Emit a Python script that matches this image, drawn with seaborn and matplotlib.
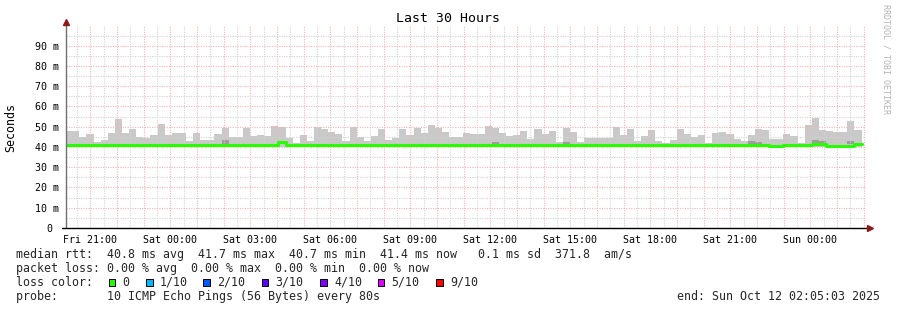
import numpy as np
import matplotlib
matplotlib.use("Agg")
import matplotlib.pyplot as plt
from matplotlib.patches import Rectangle
from matplotlib.ticker import FixedLocator, FixedFormatter
import seaborn as sns

# ---------------- data ----------------
# time axis in hours since Fri 00:00
view_start_h = 20 + 5 / 60 + 3 / 3600     # Fri 20:05:03
view_hours = 30
bin_start_h = 20 + 3 / 60                  # first smoke bin starts Fri 20:03
bin_minutes = 16

smoke_bottom = 40.2
smoke_top = [
    47.7, 47.7, 45.1, 46.2, 42.3, 43.3, 46.7, 53.8, 46.7, 48.9,
    45.1, 44.3, 45.7, 51.2, 45.7, 46.7, 46.7, 42.8, 46.7, 43.6,
    43.6, 46.2, 49.2, 44.8, 44.8, 49.2, 45.3, 45.7, 45.3, 50.2,
    49.7, 44.3, 41.8, 45.7, 42.8, 49.7, 48.7, 47.2, 46.2, 42.8,
    49.7, 44.8, 42.8, 45.3, 48.7, 43.3, 44.3, 48.7, 45.7, 49.2,
    46.7, 50.7, 49.2, 47.2, 44.8, 44.8, 46.7, 46.2, 46.2, 50.2,
    49.2, 46.7, 45.3, 45.7, 47.7, 43.8, 48.7, 46.2, 47.7, 42.3,
    49.2, 47.2, 42.3, 44.3, 44.3, 44.3, 44.3, 49.7, 45.7, 48.7,
    42.8, 45.3, 48.2, 42.8, 41.8, 43.3, 48.7, 46.2, 44.8, 45.7,
    41.8, 46.7, 47.2, 46.2, 43.8, 42.8, 45.7, 48.7, 48.2, 43.8,
    43.8, 46.2, 45.3, 41.8, 50.7, 54.1, 48.2, 47.7, 47.2, 47.2,
    52.6, 48.2,
]
median_rtt = [
    40.8, 40.8, 40.8, 40.8, 40.8, 40.8, 40.8, 40.8, 40.8, 40.8,
    40.8, 40.8, 40.8, 40.8, 40.8, 40.8, 40.8, 40.8, 40.8, 40.8,
    40.8, 40.8, 40.8, 40.8, 40.8, 40.8, 40.8, 40.8, 40.8, 40.8,
    42.3, 40.8, 40.8, 40.8, 40.8, 40.8, 40.8, 40.8, 40.8, 40.8,
    40.8, 40.8, 40.8, 40.8, 40.8, 40.8, 40.8, 40.8, 40.8, 40.8,
    40.8, 40.8, 40.8, 40.8, 40.8, 40.8, 40.8, 40.8, 40.8, 40.8,
    40.8, 40.8, 40.8, 40.8, 40.8, 40.8, 40.8, 40.8, 40.8, 40.8,
    40.8, 40.8, 40.8, 40.8, 40.8, 40.8, 40.8, 40.8, 40.8, 40.8,
    40.8, 40.8, 40.8, 40.8, 40.8, 40.8, 40.8, 40.8, 40.8, 40.8,
    40.8, 40.8, 40.8, 40.8, 40.8, 40.8, 40.8, 40.8, 40.8, 40.4,
    40.4, 40.8, 40.8, 40.8, 41.2, 41.3, 41.3, 40.5, 40.5, 40.5,
    40.6, 41.5,
]
# darker smoke patches (bin index, low, high)
dark_idx = [22, 60, 70, 96, 97, 105, 106, 110]
dark_lo = [41.5, 41.5, 41.5, 41.3, 41.3, 41.3, 41.3, 41.3]
dark_hi = [43.3, 42.5, 42.3, 42.8, 42.3, 43.3, 42.8, 43.0]

ytick_vals = [0, 10, 20, 30, 40, 50, 60, 70, 80, 90]
ytick_labels = ["0 ", "10 m", "20 m", "30 m", "40 m", "50 m", "60 m", "70 m", "80 m", "90 m"]
xtick_hours = [21, 24, 27, 30, 33, 36, 39, 42, 45, 48]
xtick_labels = ["Fri 21:00", "Sat 00:00", "Sat 03:00", "Sat 06:00", "Sat 09:00",
                "Sat 12:00", "Sat 15:00", "Sat 18:00", "Sat 21:00", "Sun 00:00"]

loss_labels = ["0", "1/10", "2/10", "3/10", "4/10", "5/10", "9/10"]
loss_colors = ["#26ff00", "#00b8ff", "#0059ff", "#5e00ff", "#7e00ff", "#dd00ff", "#ff0000"]

line_rtt = "median rtt:  40.8 ms avg  41.7 ms max  40.7 ms min  41.4 ms now   0.1 ms sd  371.8  am/s"
line_loss = "packet loss: 0.00 % avg  0.00 % max  0.00 % min  0.00 % now"
line_color = "loss color:"
line_probe = "probe:       10 ICMP Echo Pings (56 Bytes) every 80s"
line_end = "end: Sun Oct 12 02:05:03 2025"

# ---------------- figure ----------------
sns.set_theme(style="white")
plt.rcParams["font.family"] = ["DejaVu Sans Mono", "DejaVu Sans"]

W, H = 897, 310
fig = plt.figure(figsize=(W / 100, H / 100), dpi=100)
fig.patch.set_facecolor("white")

def fx(px):
    return px / W

def fy(py):
    return 1 - py / H

ax_left, ax_right, ax_bottom, ax_top = 66, 866, 228, 25.4
ax = fig.add_axes([fx(ax_left), fy(ax_bottom), fx(ax_right - ax_left), (ax_bottom - ax_top) / H])
ax.set_facecolor("white")

n = len(smoke_top)
bin_w = bin_minutes / 60
times = bin_start_h + np.arange(n) * bin_w
top = np.array(smoke_top)

ax.bar(times, top - smoke_bottom, bottom=smoke_bottom, width=bin_w, align="edge",
       color="#c9c9c9", linewidth=0, zorder=1)
di = np.array(dark_idx)
ax.bar(times[di], np.array(dark_hi) - np.array(dark_lo), bottom=dark_lo, width=bin_w,
       align="edge", color="#9c9c9c", linewidth=0, zorder=1.2)

mx = np.append(times, times[-1] + bin_w)
my = np.append(median_rtt, median_rtt[-1])
sns.lineplot(x=mx, y=my, drawstyle="steps-post", color="#26ff00", linewidth=2.2,
             ax=ax, zorder=3, sort=False, estimator=None)

ax.set_xlim(view_start_h, view_start_h + view_hours)
ax.set_ylim(0, 100)

ax.yaxis.set_major_locator(FixedLocator(ytick_vals))
ax.yaxis.set_major_formatter(FixedFormatter(ytick_labels))
ax.xaxis.set_major_locator(FixedLocator(xtick_hours))
ax.xaxis.set_major_formatter(FixedFormatter(xtick_labels))

# dotted grid drawn over the smoke, as rrdtool does
dots = (0, (1, 1.2))
red_grid, grey_grid = "#f6b4b4", "#d2d2d2"
for h in np.arange(20.5, 50.5, 0.5):
    if view_start_h < h < view_start_h + view_hours:
        is_major = float(h).is_integer()
        ax.axvline(h, color=red_grid if is_major else grey_grid, lw=0.8,
                   linestyle=dots, zorder=2)
for v in np.arange(5, 100, 5):
    is_major = v % 10 == 0
    ax.axhline(v, color=red_grid if is_major else grey_grid, lw=0.8,
               linestyle=dots, zorder=2)

for s in ax.spines.values():
    s.set_visible(False)

ax.tick_params(axis="y", length=3, width=0.7, color="#777777", pad=2.0,
               labelsize=7.2, labelcolor="black")
ax.tick_params(axis="x", length=2, width=0.7, color="#777777", pad=3.0,
               labelsize=7.2, labelcolor="black")

# axis lines with arrows
ax.plot([view_start_h, view_start_h], [0, 101.5], color="#707070", lw=1.0,
        clip_on=False, zorder=4)
x_left_ext = view_start_h - 4 / 26.667
x_right_ext = view_start_h + view_hours + 2 / 26.667
ax.plot([x_left_ext, x_right_ext], [0, 0], color="black", lw=1.0, clip_on=False, zorder=4)
ax.plot([view_start_h], [101.6], marker="^", color="#8b1a1a", markersize=4.5,
        clip_on=False, zorder=5, linestyle="none")
ax.plot([view_start_h + view_hours + 4 / 26.667], [0], marker=">", color="#8b1a1a",
        markersize=4.5, clip_on=False, zorder=5, linestyle="none")

ax.set_xlabel("")
ax.set_ylabel("")

# title and side texts
fig.text(fx(448), fy(19), "Last 30 Hours", ha="center", va="center", fontsize=9.5, color="black")
fig.text(fx(11), fy(127), "Seconds", ha="center", va="center", rotation=90, fontsize=8.4, color="black")
fig.text(fx(886), fy(59), "RRDTOOL / TOBI OETIKER", ha="center", va="center", rotation=270,
         fontsize=6, color="#b4b4b4")

# legend / statistics
fs = 8.4
fig.text(fx(16), fy(254.5), line_rtt, ha="left", va="center", fontsize=fs)
fig.text(fx(16), fy(268.5), line_loss, ha="left", va="center", fontsize=fs)
fig.text(fx(16), fy(282), line_color, ha="left", va="center", fontsize=fs)
fig.text(fx(16), fy(296.5), line_probe, ha="left", va="center", fontsize=fs)
fig.text(fx(880), fy(296.5), line_end, ha="right", va="center", fontsize=fs)

box_x = [108.7, 146, 203, 261.7, 320, 377.7, 436]
for bx, lab, col in zip(box_x, loss_labels, loss_colors):
    fig.patches.append(Rectangle((fx(bx), fy(285.5)), fx(6.5), 6.5 / H, transform=fig.transFigure,
                                 facecolor=col, edgecolor="black", linewidth=0.7, figure=fig))
    fig.text(fx(bx + 14), fy(282), lab, ha="left", va="center", fontsize=fs)

fig.savefig("out.png", dpi=100, facecolor="white")
